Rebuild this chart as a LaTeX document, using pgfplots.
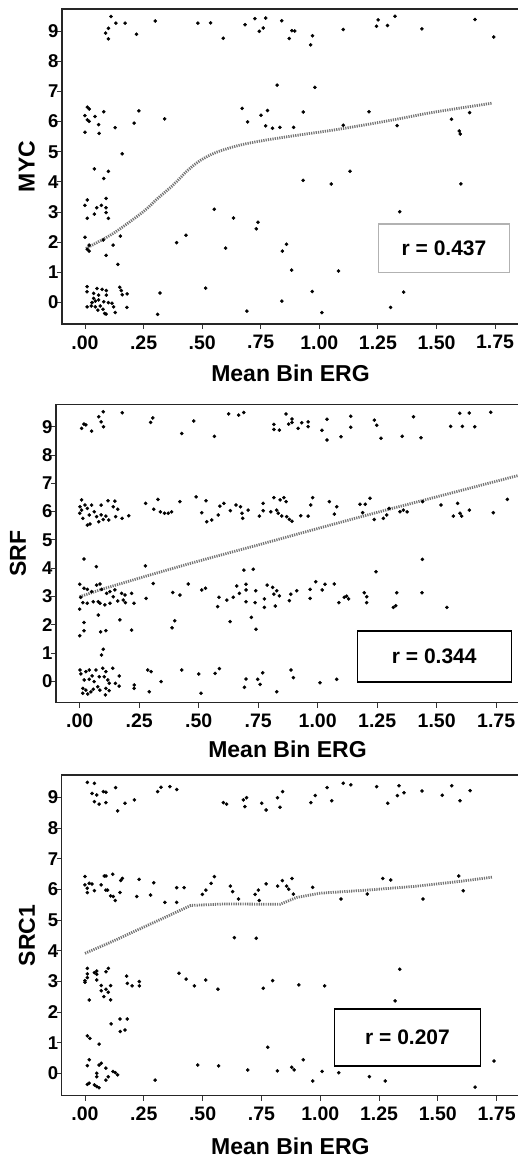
\documentclass[border=0pt]{standalone}
\usepackage{pgfplots}
\pgfplotsset{compat=1.18}
\usepackage{fontspec}
\setmainfont{Liberation Sans}
\begin{document}
\begin{tikzpicture}
\useasboundingbox (0,0) rectangle (518bp,-1159bp);
\pgfplotsset{
  erg/.style={
    scale only axis,
    anchor=north west,
    axis line style={line width=1.5bp, black!85},
    xtick={0,0.25,0.5,0.75,1,1.25,1.5,1.75},
    xticklabels={.00,.25,.50,.75,1.00,1.25,1.50,1.75},
    ytick={0,1,2,3,4,5,6,7,8,9},
    yticklabels={0,1,2,3,4,5,6,7,8,9},
    xtick pos=bottom, ytick pos=left,
    tick align=outside,
    major tick length=5bp,
    tick style={line width=0.9bp, black!80},
    xticklabel style={font=\fontsize{19.5bp}{22bp}\selectfont\bfseries, yshift=-3bp},
    yticklabel style={font=\fontsize{18.5bp}{22bp}\selectfont\bfseries, xshift=5bp},
    xlabel={Mean Bin ERG},
    label style={font=\fontsize{23bp}{25bp}\selectfont\bfseries},
    clip=true,
  },
  pts/.style={only marks, mark=*, mark size=1.6bp, black},
  fit/.style={no marks, smooth, tension=0.5, black!55, line width=2.8bp, dash pattern=on 1.2bp off 1.1bp},
}
% ---------------- Panel 1: MYC
\begin{axis}[erg, at={(62bp,-9bp)}, width=457bp, height=315bp,
  xmin=-0.098, xmax=1.852, ymin=-0.72, ymax=9.74,
  ylabel={MYC},
  xlabel style={at={(axis description cs:0.5,-0.156)}, anchor=center},
  ylabel style={at={(axis description cs:-0.077,0.5)}, anchor=center},
]
\addplot[pts] coordinates {
(0.111,9.49)(0.132,9.27)(0.171,9.27)(0.088,8.94)(0.10,9.10)(0.10,8.75)(0.22,8.90)(0.30,9.34)(0.482,9.27)(0.536,9.28)(0.59,8.77)(0.683,9.22)(0.725,9.42)(0.744,9.0)(0.761,9.11)(0.771,9.44)(0.84,9.35)(0.872,8.76)(0.883,9.02)(0.895,9.01)(0.963,8.55)(0.971,8.85)(1.102,9.06)(1.244,9.17)(1.251,9.38)(1.291,9.19)(1.323,9.50)(1.438,9.08)(1.664,9.39)(1.744,8.81)
(0.82,7.21)(0.981,7.14)
(0.0,6.20)(0.01,6.48)(0.018,6.42)(0.01,6.06)(0.018,6.01)(0.0,5.65)(0.043,6.17)(0.08,6.33)(0.058,5.90)(0.06,5.61)(0.129,5.80)(0.21,5.95)(0.23,6.36)(0.34,6.09)(0.671,6.44)(0.694,5.99)(0.751,6.21)(0.779,6.37)(0.771,5.86)(0.80,5.78)(0.832,5.81)(0.89,5.81)(0.931,6.32)(1.102,5.88)(1.212,6.33)(1.332,5.87)(1.564,6.08)(1.597,5.69)(1.601,5.59)(1.641,6.30)
(0.159,4.93)(0.04,4.43)(0.08,4.11)(0.10,4.35)(0.931,4.05)(1.051,3.93)(1.131,4.35)(1.604,3.93)
(0.01,3.40)(0.0,3.22)(0.01,2.79)(0.04,2.93)(0.05,3.14)(0.07,3.22)(0.09,3.45)(0.09,3.14)(0.09,2.98)(0.10,2.79)(0.552,3.09)(0.634,2.80)(0.738,2.66)(0.731,2.44)(1.343,3.01)
(0.0,2.16)(0.01,1.76)(0.018,1.70)(0.018,1.90)(0.078,2.07)(0.12,1.90)(0.151,2.20)(0.09,1.56)(0.14,1.26)(0.391,1.98)(0.431,2.23)(0.60,1.80)(0.842,1.70)(0.86,1.93)(0.882,1.07)(1.082,1.04)
(0.515,0.47)(0.32,0.31)(0.31,-0.40)(0.691,-0.29)(0.84,0.04)(0.97,0.36)(1.011,-0.34)(1.304,-0.17)(1.36,0.34)
(0.009,0.52)(0.009,0.35)(0.051,0.46)(0.073,0.43)(0.091,0.39)(0.091,0.24)(0.148,0.50)(0.155,0.39)(0.18,0.28)(0.159,0.25)(0.037,0.13)(0.044,0.04)(0.058,0.08)(0.08,0.02)(0.10,-0.01)(0.115,-0.03)(0.009,-0.15)(0.027,-0.12)(0.044,-0.15)(0.065,-0.12)(0.03,-0.01)(0.055,-0.26)(0.077,-0.23)(0.084,-0.37)(0.122,-0.15)(0.129,-0.34)(0.09,-0.39)(0.179,-0.17)(0.058,0.24)(0.037,0.30)
};
\addplot[fit] coordinates {
(0.004,1.79)(0.121,2.29)(0.249,3.01)(0.306,3.42)(0.377,3.90)(0.434,4.35)(0.49,4.70)(0.56,4.98)(0.661,5.22)(0.774,5.39)(0.917,5.56)(1.06,5.72)(1.20,5.90)(1.344,6.10)(1.486,6.31)(1.735,6.61)
};
\draw[gray!60, line width=1.2bp, fill=white] (axis cs:1.251,0.98) rectangle (axis cs:1.813,2.60);
\node[font=\fontsize{21bp}{24bp}\selectfont\bfseries] at (axis cs:1.532,1.81) {r = 0.437};
\end{axis}
% ---------------- Panel 2: SRF
\begin{axis}[erg, at={(56bp,-404.3bp)}, width=463bp, height=298.4bp,
  xmin=-0.0996, xmax=1.846, ymin=-0.756, ymax=9.79,
  ylabel={SRF},
  xlabel style={at={(axis description cs:0.5,-0.155)}, anchor=center},
  ylabel style={at={(axis description cs:-0.082,0.5)}, anchor=center},
]
\addplot[pts] coordinates {
(0.008,8.94)(0.018,9.09)(0.026,9.06)(0.05,8.84)(0.08,9.35)(0.09,9.17)(0.099,9.53)(0.10,9.0)(0.179,9.49)(0.298,9.15)(0.307,9.31)(0.429,8.76)(0.479,9.20)(0.566,8.66)(0.626,9.45)(0.668,9.41)(0.689,9.50)(0.816,9.08)(0.816,8.90)(0.839,8.88)(0.867,9.45)(0.878,9.09)(0.892,9.27)(0.892,9.15)(0.918,8.94)(0.933,9.14)(0.96,9.17)(0.96,9.0)(1.018,8.87)(1.039,9.26)(1.039,8.53)(1.098,8.64)(1.139,9.37)(1.139,8.98)(1.238,9.23)(1.248,9.05)(1.266,8.59)(1.355,8.66)(1.403,9.35)(1.434,8.61)(1.559,9.01)(1.597,9.47)(1.608,9.01)(1.637,9.48)(1.66,9.0)(1.727,9.51)
(0.008,6.41)(0.001,6.17)(0.008,6.05)(0.0,5.94)(0.013,5.76)(0.022,6.23)(0.032,6.11)(0.04,5.88)(0.032,5.52)(0.043,5.56)(0.05,6.23)(0.061,5.99)(0.071,5.82)(0.08,5.64)(0.09,6.23)(0.09,5.88)(0.099,5.72)(0.11,5.84)(0.119,6.38)(0.122,5.70)(0.148,6.37)(0.141,6.17)(0.151,5.82)(0.16,6.08)(0.178,5.76)(0.206,5.85)(0.277,6.29)(0.311,6.08)(0.329,6.43)(0.339,5.99)(0.356,5.94)(0.372,5.94)(0.386,5.99)(0.421,6.35)(0.489,6.52)(0.513,5.96)(0.531,6.38)(0.534,5.64)(0.555,5.70)(0.582,5.88)(0.589,6.19)(0.606,6.29)(0.633,6.03)(0.657,6.23)(0.676,6.17)(0.682,5.94)(0.685,5.76)(0.708,6.05)(0.755,5.84)(0.771,6.29)(0.771,6.03)(0.803,5.99)(0.816,6.49)(0.828,6.05)(0.834,5.94)(0.842,6.41)(0.858,6.49)(0.867,6.35)(0.849,5.84)(0.87,5.82)(0.881,5.72)(0.892,5.66)(0.929,5.85)(0.96,5.84)(0.971,6.23)(0.979,6.49)(1.049,6.35)(1.07,5.91)(1.08,6.17)(1.178,6.26)(1.189,5.96)(1.20,6.26)(1.22,6.47)(1.238,5.72)(1.276,5.76)(1.29,5.88)(1.30,6.11)(1.346,5.99)(1.36,6.05)(1.376,5.99)(1.441,6.35)(1.518,6.23)(1.57,5.84)(1.588,6.29)(1.598,5.94)(1.605,5.84)(1.637,6.05)(1.738,5.96)(1.797,6.43)
(0.018,4.32)(0.07,4.05)(0.276,4.08)(0.729,3.96)(1.44,4.31)(0.69,3.93)(1.245,3.87)
(0.0,3.43)(0.018,3.29)(0.004,2.97)(0.032,3.25)(0.05,3.17)(0.071,3.40)(0.085,3.44)(0.092,3.25)(0.113,3.11)(0.127,3.17)(0.148,3.23)(0.013,2.78)(0.032,2.76)(0.0,2.55)(0.057,2.81)(0.078,2.81)(0.085,2.76)(0.106,2.70)(0.127,2.76)(0.141,2.99)(0.16,2.84)(0.176,3.11)(0.19,3.05)(0.183,2.87)(0.192,2.78)(0.218,3.11)(0.228,2.76)(0.279,2.93)(0.309,3.46)(0.391,3.14)(0.421,3.05)(0.456,3.44)(0.513,3.23)(0.529,3.29)(0.58,2.64)(0.585,2.97)(0.618,2.87)(0.645,2.97)(0.66,3.37)(0.671,3.11)(0.699,3.43)(0.699,3.23)(0.699,2.81)(0.737,2.78)(0.74,3.20)(0.776,2.91)(0.776,2.61)(0.788,3.40)(0.811,3.32)(0.816,3.08)(0.828,3.20)(0.839,3.02)(0.822,2.66)(0.881,2.85)(0.887,3.08)(0.912,3.20)(0.968,3.25)(0.968,2.93)(0.992,3.52)(1.019,3.23)(1.031,3.43)(1.07,3.44)(1.089,2.78)(1.112,2.97)(1.122,3.01)(1.13,2.91)(1.196,3.13)(1.206,2.99)(1.206,2.78)(1.318,2.61)(1.328,2.67)(1.332,3.13)(1.438,3.13)(1.543,2.61)
(0.0,1.61)(0.018,2.08)(0.018,1.79)(0.078,2.34)(0.088,1.75)(0.11,1.79)(0.169,2.17)(0.218,1.81)(0.388,1.89)(0.399,2.14)(0.632,2.11)(0.721,2.26)(0.741,1.84)
(0.099,1.13)(0.092,0.93)
(0.001,0.40)(0.005,0.26)(0.026,0.34)(0.04,0.40)(0.052,0.19)(0.068,0.40)(0.019,0.05)(0.04,0.07)(0.061,-0.01)(0.082,0.16)(0.097,0.46)(0.11,0.34)(0.103,0.16)(0.118,0.05)(0.139,0.46)(0.124,-0.07)(0.15,-0.07)(0.166,0.19)(0.166,-0.17)(0.013,-0.25)(0.026,-0.31)(0.013,-0.42)(0.034,-0.45)(0.047,-0.37)(0.057,-0.28)(0.076,-0.19)(0.085,-0.31)(0.11,-0.25)(0.124,-0.33)(0.108,-0.48)(0.229,-0.13)(0.229,-0.25)(0.286,0.40)(0.30,0.34)(0.292,-0.37)(0.342,-0.01)(0.429,0.40)(0.50,0.26)(0.51,-0.42)
(0.569,0.28)(0.587,0.45)(0.699,0.08)(0.692,-0.21)(0.748,0.07)(0.758,-0.11)(0.769,0.30)(0.828,-0.37)(0.888,0.40)(0.898,0.13)(1.01,-0.05)(1.08,0.07)
};
\addplot[fit] coordinates {
(0.0,2.99)(0.1,3.27)(0.2,3.52)(0.3,3.77)(0.5,4.25)(0.75,4.82)(1.0,5.40)(1.25,5.97)(1.5,6.52)(1.85,7.29)
};
\draw[black, line width=1.6bp, fill=white] (axis cs:1.168,-0.014) rectangle (axis cs:1.815,1.777);
\node[font=\fontsize{21bp}{24bp}\selectfont\bfseries] at (axis cs:1.49,0.88) {r = 0.344};
\end{axis}
% ---------------- Panel 3: SRC1
\begin{axis}[erg, at={(61.7bp,-775bp)}, width=457.3bp, height=320.7bp,
  xmin=-0.099, xmax=1.845, ymin=-0.72, ymax=9.73,
  ylabel={SRC1},
  xlabel style={at={(axis description cs:0.5,-0.157)}, anchor=center},
  ylabel style={at={(axis description cs:-0.076,0.5)}, anchor=center},
]
\addplot[pts] coordinates {
(0.01,9.49)(0.04,9.46)(0.03,9.13)(0.05,9.08)(0.04,8.86)(0.06,8.78)(0.078,9.19)(0.089,9.17)(0.089,8.83)(0.13,9.32)(0.139,8.56)(0.17,8.81)(0.21,8.92)(0.309,9.19)(0.323,9.33)(0.361,9.35)(0.39,9.26)(0.588,8.83)(0.602,8.78)(0.673,8.92)(0.687,8.99)(0.68,8.70)(0.751,8.81)(0.77,8.59)(0.818,8.99)(0.829,8.68)(0.84,9.19)(0.96,8.83)(0.979,9.06)(1.029,9.32)(1.049,8.89)(1.098,9.46)(1.13,9.41)(1.24,9.35)(1.287,8.81)(1.328,9.06)(1.335,9.38)(1.356,9.15)(1.433,9.21)(1.519,9.07)(1.559,9.38)(1.594,8.89)(1.637,9.22)
(0.0,6.42)(0.0,6.15)(0.01,6.04)(0.01,5.90)(0.018,6.20)(0.03,6.18)(0.04,5.96)(0.069,6.15)(0.082,6.44)(0.089,6.44)(0.089,5.98)(0.096,5.98)(0.109,5.79)(0.118,6.50)(0.12,5.77)(0.129,5.64)(0.152,6.29)(0.149,5.90)(0.159,6.36)(0.22,5.77)(0.23,6.33)(0.279,5.82)(0.292,6.22)(0.34,5.58)(0.39,6.06)(0.39,5.58)(0.421,6.06)(0.499,5.84)(0.514,5.98)(0.536,6.20)(0.55,6.42)(0.618,6.11)(0.628,5.93)(0.653,5.69)(0.723,5.84)(0.737,5.98)(0.741,5.64)(0.77,6.18)(0.819,6.11)(0.839,6.29)(0.857,6.11)(0.866,6.01)(0.88,6.36)(0.886,5.85)(0.968,6.07)(1.088,5.69)(1.20,5.85)(1.266,6.36)(1.30,6.31)(1.437,5.69)(1.589,6.44)(1.608,5.96)
(0.635,4.43)(0.728,4.41)
(0.01,3.43)(0.01,3.25)(0.01,3.13)(0.0,2.98)(0.0,3.03)(0.04,3.29)(0.05,3.24)(0.05,3.05)(0.05,3.34)(0.089,3.32)(0.099,3.43)(0.069,2.87)(0.069,2.70)(0.089,2.75)(0.099,2.65)(0.109,2.87)(0.08,2.51)(0.109,2.40)(0.018,2.40)(0.177,3.18)(0.18,2.94)(0.2,2.86)(0.231,3.0)(0.231,2.86)(0.40,3.27)(0.43,3.08)(0.465,2.86)(0.513,3.05)(0.565,2.75)(0.758,2.78)(0.798,3.03)(0.909,2.89)(1.019,2.86)(1.338,3.40)(1.318,2.37)
(0.111,1.62)(0.149,1.78)(0.15,1.37)(0.17,1.42)(0.18,1.78)(0.01,1.23)(0.021,1.15)(0.06,0.96)(0.777,0.86)
(0.018,0.45)(0.01,0.26)(0.06,0.28)(0.069,0.34)(0.089,0.18)(0.05,0.01)(0.05,-0.10)(0.099,-0.10)(0.089,-0.21)(0.119,0.07)(0.129,0.03)(0.139,-0.04)(0.01,-0.35)(0.018,-0.31)(0.04,-0.37)(0.05,-0.42)(0.06,-0.46)(0.298,-0.21)(0.479,0.28)(0.568,0.25)(0.692,0.12)(0.818,0.09)(0.879,0.21)(0.889,0.12)(0.928,0.45)(0.968,-0.24)(1.008,0.07)(1.079,0.03)(1.209,-0.10)(1.276,-0.24)(1.658,-0.44)(1.739,0.41)
};
\addplot[fit, smooth=false, sharp plot] coordinates {
(0.0,3.92)(0.1,4.25)(0.2,4.60)(0.3,4.95)(0.45,5.48)(0.6,5.53)(0.75,5.52)(0.83,5.52)(0.9,5.74)(1.0,5.88)(1.2,5.98)(1.4,6.10)(1.6,6.27)(1.73,6.40)
};
\draw[black, line width=1.6bp, fill=white] (axis cs:1.06,0.25) rectangle (axis cs:1.682,2.11);
\node[font=\fontsize{21bp}{24bp}\selectfont\bfseries] at (axis cs:1.371,1.18) {r = 0.207};
\end{axis}
\end{tikzpicture}
\end{document}
